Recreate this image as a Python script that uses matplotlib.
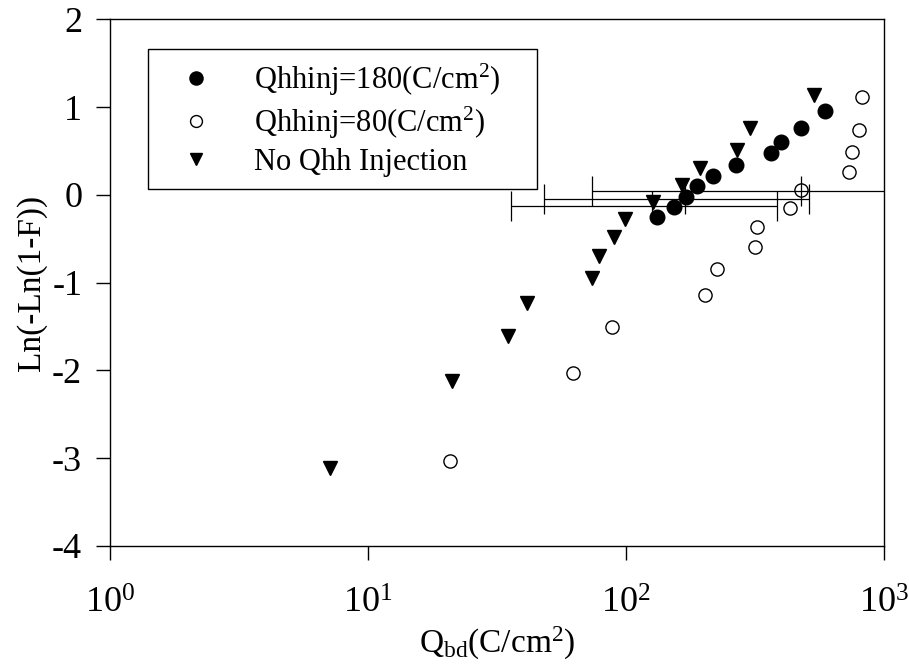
import numpy as np
import matplotlib
matplotlib.use('Agg')
import matplotlib.pyplot as plt
from matplotlib.ticker import FixedLocator, NullLocator

plt.rcParams['font.family'] = 'Liberation Serif'
plt.rcParams['mathtext.fontset'] = 'custom'
plt.rcParams['mathtext.rm'] = 'Liberation Serif'
plt.rcParams['mathtext.it'] = 'Liberation Serif:italic'
plt.rcParams['axes.unicode_minus'] = False

# Qhhinj = 180 C/cm2
q_180 = [131.5, 153.9, 170.3, 187.9, 217.9, 267.0, 364.8, 398.9, 475.5, 590.6]
f_180 = [-0.25, -0.136, -0.022, 0.10, 0.214, 0.34, 0.473, 0.606, 0.765, 0.956]

# Qhhinj = 80 C/cm2
q_80 = [20.7, 62.2, 88.0, 203.0, 224.7, 317.1, 321.0, 432.2, 475.5, 733.9, 753.8, 800.2, 818.3]
f_80 = [-3.033, -2.036, -1.511, -1.139, -0.846, -0.592, -0.364, -0.147, 0.055, 0.263, 0.485, 0.739, 1.119]

# no Qhh injection
q_none = [7.12, 21.1, 35.0, 41.2, 74.0, 78.6, 90.1, 99.1, 127.6, 164.4, 193.6, 268.6, 302.5, 536.8]
f_none = [-3.116, -2.124, -1.611, -1.238, -0.946, -0.698, -0.478, -0.279, -0.079, 0.112, 0.302, 0.517, 0.762, 1.138]

# spread of each group: 80, 180, none
err_q = np.array([476.6, 169.3, 126.2])
err_f = np.array([0.043, -0.048, -0.128])
err_q_low = np.array([73.8, 48.1, 35.8])
err_q_high = np.array([2000.0, 512.1, 384.8])
err_f_half = 0.17

fig = plt.figure(figsize=(9.09, 6.70), dpi=100)
ax = fig.add_axes([0.121, 0.1855, 0.8515, 0.7854])

ax.errorbar(err_q, err_f, xerr=[err_q - err_q_low, err_q_high - err_q],
            fmt='none', ecolor='k', elinewidth=0.9, capsize=11, capthick=0.9, zorder=1)
ax.errorbar(err_q, err_f, yerr=err_f_half,
            fmt='none', ecolor='k', elinewidth=0.9, capsize=0, zorder=1)

ax.plot(q_180, f_180, 'o', color='k', ms=10.5, linestyle='none',
        label='Qhhinj=180(C/cm$^2$)', zorder=3)
ax.plot(q_80, f_80, 'o', mfc='none', mec='k', mew=1.0, ms=9.5, linestyle='none',
        label='Qhhinj=80(C/cm$^2$)', zorder=3)
ax.plot(q_none, f_none, 'v', color='k', ms=10, linestyle='none',
        label='No Qhh Injection', zorder=3)

ax.set_xscale('log')
ax.set_xlim(1, 1000)
ax.set_ylim(-4, 2)
ax.xaxis.set_major_locator(FixedLocator([1, 10, 100, 1000]))
ax.xaxis.set_minor_locator(NullLocator())
ax.set_yticks([-4, -3, -2, -1, 0, 1, 2])

for s in ax.spines.values():
    s.set_color('k')
    s.set_linewidth(1.0)
ax.tick_params(axis='both', which='major', direction='out', length=10, width=1.0,
               labelsize=26, colors='k', top=False, right=False)
ax.tick_params(axis='x', pad=20)
ax.tick_params(axis='y', pad=10)

ax.set_xlabel('Q$_{\\mathrm{bd}}$(C/cm$^2$)', fontsize=24, labelpad=3)
ax.set_ylabel('Ln(-Ln(1-F))', fontsize=24, labelpad=4)

leg = ax.legend(loc='upper left', bbox_to_anchor=(0.049, 0.944, 0.5026, 0.0),
                mode='expand', borderaxespad=0,
                fontsize=22, frameon=True, fancybox=False, edgecolor='k',
                framealpha=1, handlelength=2.34, handletextpad=0.72,
                borderpad=0.42, labelspacing=0.22, markerscale=0.9)
leg.get_frame().set_linewidth(1.0)

fig.savefig('out.png', dpi=100)
